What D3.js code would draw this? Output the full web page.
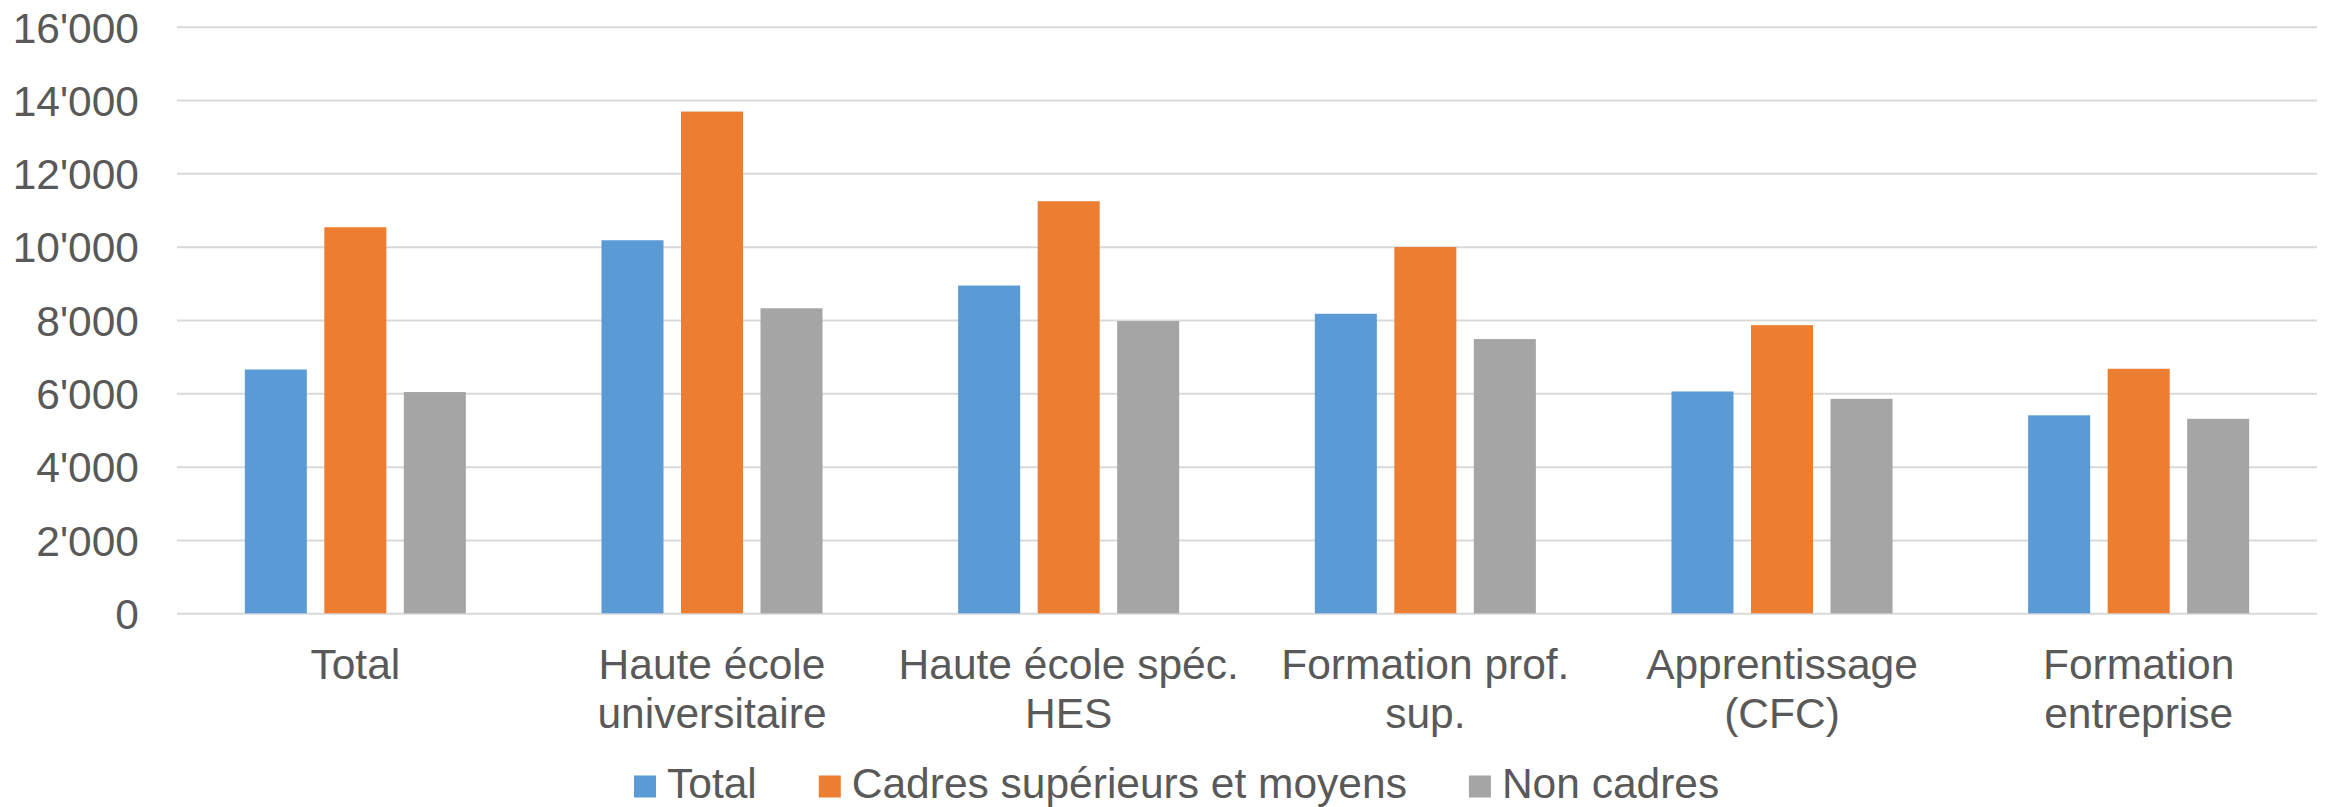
<!DOCTYPE html>
<html>
<head>
<meta charset="utf-8">
<script src="https://cdn.jsdelivr.net/npm/d3@7"></script>
<style>
  html, body { margin: 0; padding: 0; background: #ffffff; }
  svg { display: block; font-family: "Liberation Sans", Arial, sans-serif; }
</style>
</head>
<body>
<svg id="chart" width="2330" height="807"></svg>
<script>
// ---- Data ----
const categories = ["Total", "Haute école universitaire", "Haute école spéc. HES", "Formation prof. sup.", "Apprentissage (CFC)", "Formation entreprise"];
const seriesNames = ["Total", "Cadres supérieurs et moyens", "Non cadres"];
const totalValues  = [6650, 10175, 8940, 8170, 6050, 5400];
const cadresValues = [10530, 13685, 11240, 9990, 7860, 6670];
const nonCadresValues = [6035, 8320, 7970, 7480, 5850, 5305];
const yTicks = [0, 2000, 4000, 6000, 8000, 10000, 12000, 14000, 16000];
const colors = ["#5B9BD5", "#ED7D31", "#A5A5A5"];

const seriesValues = [totalValues, cadresValues, nonCadresValues];

// ---- Layout ----
const svg = d3.select("#chart");
const plotLeft = 177, plotRight = 2317, plotTop = 26.7, plotBottom = 613.3;
const textColor = "#595959";
const fontSize = 42.5;
const fontFam = '"Liberation Sans", Arial, sans-serif';

const x = d3.scaleBand().domain(categories).range([plotLeft, plotRight]).paddingInner(0).paddingOuter(0);
const xSub = d3.scaleBand().domain(seriesNames).range([0, x.bandwidth()]).paddingInner(0.22).paddingOuter(0.853);
const y = d3.scaleLinear().domain([0, 16000]).range([plotBottom, plotTop]);

const loc = d3.formatLocale({decimal: ".", thousands: "'", grouping: [3], currency: ["", ""]});
const fmt = loc.format(",");

// gridlines
const grid = svg.append("g")
  .attr("transform", `translate(${plotLeft},0)`)
  .call(d3.axisLeft(y).tickValues(yTicks).tickSize(-(plotRight - plotLeft)).tickFormat(""));
grid.select(".domain").remove();
grid.selectAll(".tick line").attr("stroke", "#D9D9D9").attr("stroke-width", 2);

// y axis labels
const yAxis = svg.append("g")
  .attr("transform", `translate(${plotLeft - 38},0)`)
  .call(d3.axisLeft(y).tickValues(yTicks).tickSize(0).tickPadding(0).tickFormat(fmt));
yAxis.select(".domain").remove();
yAxis.selectAll("text")
  .attr("fill", textColor)
  .attr("font-size", fontSize)
  .attr("font-family", fontFam)
  .attr("dy", "0.36em");

// bars
const rows = categories.map((c, i) => ({cat: c, vals: seriesNames.map((s, j) => ({s, j, v: seriesValues[j][i]}))}));
const groups = svg.append("g").selectAll("g").data(rows).join("g")
  .attr("transform", d => `translate(${x(d.cat)},0)`);
groups.selectAll("rect").data(d => d.vals).join("rect")
  .attr("x", d => xSub(d.s))
  .attr("width", xSub.bandwidth())
  .attr("y", d => y(d.v))
  .attr("height", d => y(0) - y(d.v))
  .attr("fill", d => colors[d.j]);

// x axis (category labels)
const xAxis = svg.append("g")
  .attr("transform", `translate(0,${plotBottom})`)
  .call(d3.axisBottom(x).tickSize(0).tickFormat(""));
xAxis.select(".domain").remove();

const maxW = x.bandwidth() * 0.99;
xAxis.selectAll(".tick").each(function(d) {
  const t = d3.select(this).append("text")
    .attr("fill", textColor)
    .attr("font-size", fontSize)
    .attr("font-family", fontFam)
    .attr("text-anchor", "middle")
    .attr("y", 66);
  const words = d.split(" ");
  let line = [];
  let tspan = t.append("tspan").attr("x", 0).attr("dy", 0);
  for (const w of words) {
    line.push(w);
    tspan.text(line.join(" "));
    if (tspan.node().getComputedTextLength() > maxW && line.length > 1) {
      line.pop();
      tspan.text(line.join(" "));
      line = [w];
      tspan = t.append("tspan").attr("x", 0).attr("dy", 49).text(w);
    }
  }
});

// legend
const legend = svg.append("g").attr("transform", "translate(634,0)");
let cx = 0;
seriesNames.forEach((s, j) => {
  legend.append("rect").attr("x", cx).attr("y", 775.5).attr("width", 22).attr("height", 22).attr("fill", colors[j]);
  const t = legend.append("text")
    .attr("x", cx + 33).attr("y", 797.5)
    .attr("fill", textColor)
    .attr("font-size", fontSize)
    .attr("font-family", fontFam)
    .text(s);
  cx += 33 + t.node().getComputedTextLength() + 62;
});
</script>
</body>
</html>
